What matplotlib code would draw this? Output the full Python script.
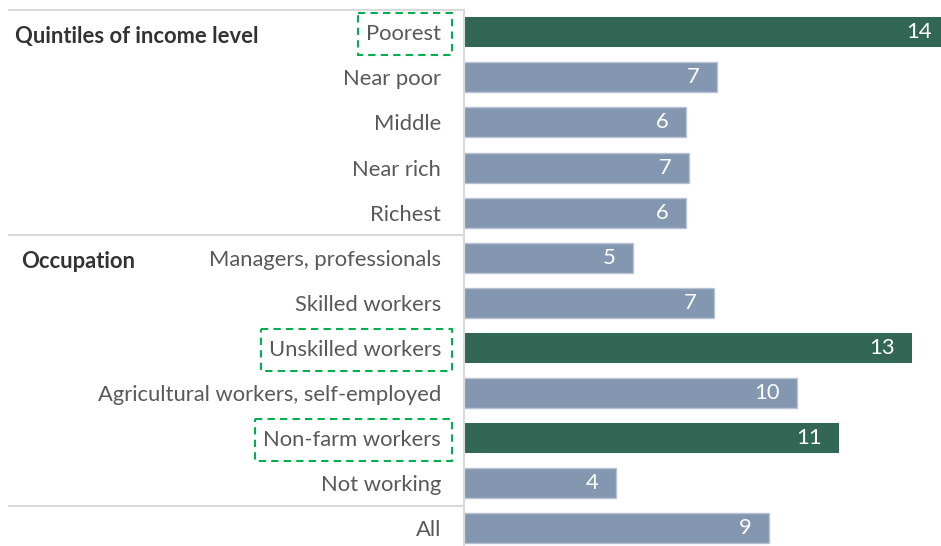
import matplotlib
matplotlib.use("Agg")
import matplotlib.pyplot as plt
from matplotlib.patches import Rectangle
from matplotlib.transforms import blended_transform_factory

# data (bar lengths, labels are the rounded values)
categories = ["Poorest", "Near poor", "Middle", "Near rich", "Richest",
              "Managers, professionals", "Skilled workers", "Unskilled workers",
              "Agricultural workers, self-employed", "Non-farm workers",
              "Not working", "All"]
values = [14.2, 7.39, 6.48, 6.58, 6.49, 4.95, 7.31, 13.1, 9.74, 10.96, 4.44, 8.93]
highlight = ["Poorest", "Unskilled workers", "Non-farm workers"]
groups = [("Quintiles of income level", 0, 15), ("Occupation", 5, 21)]
separators = [-0.5, 4.5, 10.5]

plt.rcParams['font.family'] = ['Lato', 'DejaVu Sans']
FS = 15.8
W, H = 941, 546
fig = plt.figure(figsize=(W / 100, H / 100), dpi=100)

# axes runs past the right edge on purpose so the longest bar gets cut off
ax_left, ax_top, ax_bot = 464, 9.75, 550.9
ax = fig.add_axes([ax_left / W, 1 - ax_bot / H, 15 * 34.2 / W, (ax_bot - ax_top) / H])

green = "#316754"
blue = "#8497B0"
colors = [green if c in highlight else blue for c in categories]
edges = ["none" if c in highlight else "#b8c3d3" for c in categories]
y = list(range(len(categories)))
ax.barh(y, values, height=0.665, color=colors, edgecolor=edges, linewidth=1)

for i, v in enumerate(values):
    ax.annotate(f"{v:.0f}", xy=(v, i), xytext=(-12.5, 0), textcoords="offset points",
                ha="right", va="center", color="white", fontsize=FS,
                annotation_clip=False)

ax.set_xlim(0, 15)
ax.set_ylim(len(categories) - 0.5, -0.5)
ax.set_yticks(y, categories)
ax.tick_params(axis="y", length=0, pad=16.5, labelsize=FS, labelcolor="#595959")
ax.set_xticks([])
for s in ["top", "right", "bottom"]:
    ax.spines[s].set_visible(False)
ax.spines["left"].set_color("#d9d9d9")
ax.spines["left"].set_linewidth(1.5)

trans = blended_transform_factory(fig.transFigure, ax.transData)

# grey row separators on the label side
for s in separators:
    fig.add_artist(plt.Line2D([9 / W, 463 / W], [s, s], transform=trans,
                              color="#d9d9d9", lw=1.5))

# group headings sit a touch below their row
for name, row, xpx in groups:
    fig.text(xpx / W, row + 0.09, name, transform=trans, ha="left", va="center",
             fontsize=FS, fontweight="bold", color="#333333")

# dashed green boxes round the highlighted labels
fig.canvas.draw()
renderer = fig.canvas.get_renderer()
for lab in ax.get_yticklabels():
    if lab.get_text() in highlight:
        bb = lab.get_window_extent(renderer)
        row = categories.index(lab.get_text())
        x0 = (bb.x0 - 8) / W
        x1 = 452 / W
        fig.add_artist(Rectangle((x0, row - 0.42), x1 - x0, 0.92, transform=trans,
                                 fill=False, ec="#00B050", lw=1.5, ls=(0, (3.5, 2.5))))

fig.savefig("out.png", dpi=100)
